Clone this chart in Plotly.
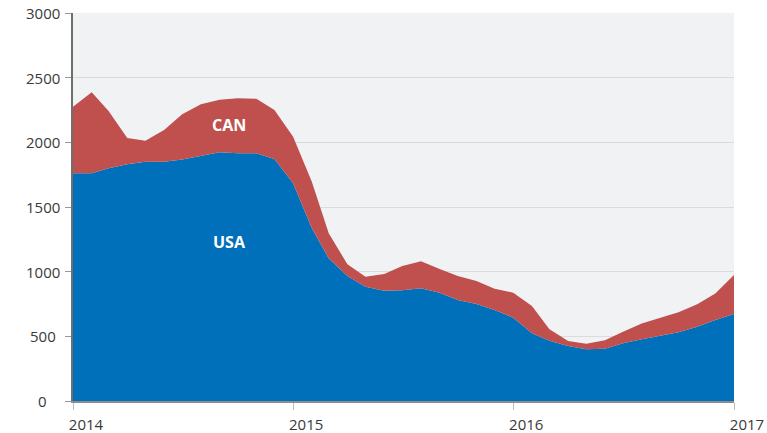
import pandas as pd
import plotly.graph_objects as go

months = pd.date_range("2014-01-01", "2017-01-01", freq="MS")

# rig counts (monthly, Jan 2014 - Jan 2017)
usa = [1760, 1760, 1799, 1830, 1850, 1850, 1868, 1897, 1923, 1915, 1915, 1871,
       1683, 1335, 1103, 966, 884, 853, 856, 871, 837, 781, 750, 704,
       644, 523, 466, 425, 400, 404, 446, 477, 503, 531, 574, 626,
       673]
total = [2275, 2387, 2242, 2033, 2013, 2095, 2217, 2294, 2330, 2340, 2337, 2250,
         2044, 1696, 1297, 1057, 961, 982, 1044, 1080, 1020, 966, 928, 868,
         837, 735, 554, 464, 443, 469, 536, 600, 644, 686, 748, 832,
         974]
can = [t - u for t, u in zip(total, usa)]

y_ticks = [0, 500, 1000, 1500, 2000, 2500, 3000]
x_ticks = ["2014-01-01", "2015-01-01", "2016-01-01", "2017-01-01"]
x_labels = ["2014", "2015", "2016", "2017"]

fig = go.Figure()

fig.add_trace(go.Scatter(
    x=months, y=usa, name="USA",
    mode="lines", stackgroup="rigs",
    line=dict(width=0, color="#0070BA"),
    fillcolor="#0070BA",
))
fig.add_trace(go.Scatter(
    x=months, y=can, name="CAN",
    mode="lines", stackgroup="rigs",
    line=dict(width=0, color="#C0504E"),
    fillcolor="#C0504E",
))

label_font = dict(family="Open Sans, Lato, sans-serif", size=16, color="white")
fig.add_annotation(x="2014-09-17", y=2134, text="<b>CAN</b>", showarrow=False, font=label_font)
fig.add_annotation(x="2014-09-17", y=1229, text="<b>USA</b>", showarrow=False, font=label_font)

tick_font = dict(family="Open Sans, Noto Sans, sans-serif", size=15, color="#3A3A3A")

# y tick labels in the original are centred in the left gutter
for v in y_ticks:
    fig.add_annotation(
        x=-0.046, xref="paper", y=v, yref="y",
        text=str(v), showarrow=False,
        xanchor="center", yanchor="middle",
        font=tick_font,
    )

fig.update_xaxes(
    range=["2014-01-01", "2017-01-01"],
    tickvals=x_ticks, ticktext=x_labels,
    tickfont=tick_font,
    ticklabelshift=13, ticklabelstandoff=2,
    showgrid=False,
    showline=True, linecolor="#8C8C8C", linewidth=1.5,
    ticks="outside", ticklen=7, tickcolor="#BBBBBB",
    automargin=False,
)
fig.update_yaxes(
    range=[0, 3000],
    tickvals=y_ticks,
    showticklabels=False,
    showgrid=True, gridcolor="#DADBDE", gridwidth=1,
    zeroline=False,
    showline=True, linecolor="#6E6E6E", linewidth=2,
    ticks="outside", ticklen=6, tickcolor="#9A9A9A",
    automargin=False,
)

fig.update_layout(
    width=767, height=433,
    margin=dict(l=73, r=33, t=13, b=32),
    plot_bgcolor="#F1F2F4",
    paper_bgcolor="white",
    showlegend=False,
)

# drop the default 8px body margin so the figure fills the window
fig.write_html(
    "out.html",
    config={"displayModeBar": False},
    post_script="document.body.style.margin='0px';",
)
